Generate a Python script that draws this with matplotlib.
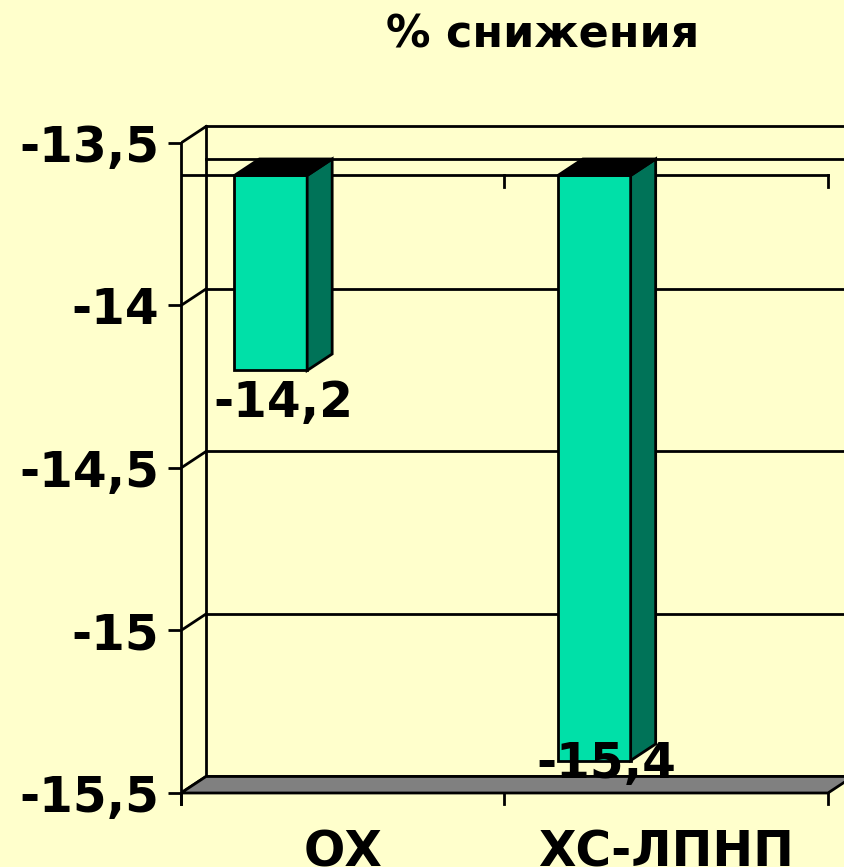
import matplotlib
matplotlib.use("Agg")
import matplotlib.pyplot as plt
from matplotlib.patches import Polygon

plt.rc('font', family='DejaVu Sans', weight='bold')

BG = '#FFFFCC'
COLOR_FRONT = '#00E0A8'
COLOR_SIDE = '#007358'
COLOR_TOP = '#000000'
COLOR_FLOOR = '#808080'

# data
title = '% снижения'
categories = ['ОХ', 'ХС-ЛПНП']
values = [-14.2, -15.4]
value_labels = ['-14,2', '-15,4']
y_ticks = [-13.5, -14.0, -14.5, -15.0, -15.5]
y_tick_labels = ['-13,5', '-14', '-14,5', '-15', '-15,5']

# 3d look (depth offsets in data units)
BASE = -13.6
DX = 0.0773
DY = 0.0508
BAR_OFFSET = 0.165
BAR_W = 0.225
XMAX = 2.0495

fig = plt.figure(figsize=(8.44, 8.67), dpi=100)
fig.set_facecolor(BG)
ax = fig.add_axes([181 / 844, 57 / 867, 663 / 844, 700 / 867])
ax.set_facecolor(BG)
ax.set_xlim(0, XMAX)
ax.set_ylim(-15.5523, -13.3985)

lw = 2.0
y_top, y_bot = max(y_ticks), min(y_ticks)

# back wall gridlines + side wall diagonals
for t in y_ticks:
    ax.plot([DX, XMAX], [t + DY, t + DY], color='black', lw=lw, zorder=1)
    ax.plot([0, DX], [t, t + DY], color='black', lw=lw, zorder=1)
ax.plot([DX, DX], [y_bot + DY, y_top + DY], color='black', lw=lw, zorder=1)

# floor
ncat = len(categories)
floor = Polygon([(0, y_bot), (ncat, y_bot), (ncat + DX, y_bot + DY), (DX, y_bot + DY)],
                closed=True, facecolor=COLOR_FLOOR, edgecolor='black', lw=lw, zorder=2)
ax.add_patch(floor)
for i in range(ncat + 1):
    ax.plot([i, i], [y_bot, y_bot - 0.034], color='black', lw=lw, zorder=2, clip_on=False)

# category axis plane at the base
ax.plot([DX, XMAX], [BASE + DY, BASE + DY], color='black', lw=lw, zorder=1)
ax.plot([0, ncat], [BASE, BASE], color='black', lw=lw, zorder=2)
for i in range(1, ncat + 1):
    ax.plot([i, i], [BASE, BASE - 0.034], color='black', lw=lw, zorder=2)

# bars
for i, v in enumerate(values):
    x = i + BAR_OFFSET
    ax.bar(x, v - BASE, bottom=BASE, width=BAR_W, align='edge',
           color=COLOR_FRONT, edgecolor='black', lw=lw, zorder=3)
    side = Polygon([(x + BAR_W, BASE), (x + BAR_W + DX, BASE + DY),
                    (x + BAR_W + DX, v + DY), (x + BAR_W, v)],
                   closed=True, facecolor=COLOR_SIDE, edgecolor='black', lw=lw, zorder=3)
    top = Polygon([(x, BASE), (x + BAR_W, BASE), (x + BAR_W + DX, BASE + DY), (x + DX, BASE + DY)],
                  closed=True, facecolor=COLOR_TOP, edgecolor='black', lw=lw, zorder=3)
    ax.add_patch(side)
    ax.add_patch(top)
    ly = max(v - 0.1, -15.41)
    ax.text(x + BAR_W / 2 + DX / 2, ly, value_labels[i], ha='center', va='center',
            fontsize=35, fontweight='bold', zorder=5)

# axes
for s in ['top', 'right', 'bottom']:
    ax.spines[s].set_visible(False)
ax.spines['left'].set_linewidth(lw)
ax.spines['left'].set_bounds(y_bot - 0.034, y_top)
ax.set_yticks(y_ticks)
ax.set_yticklabels(y_tick_labels, fontsize=35, fontweight='bold')
ax.tick_params(axis='y', length=9.5, width=lw, pad=6)
ax.set_xticks([i + 0.5 for i in range(ncat)])
ax.set_xticklabels(categories, fontsize=35, fontweight='bold')
ax.tick_params(axis='x', length=0, pad=13)

fig.text(543 / 844, 1 - 35 / 867, title, ha='center', va='center', fontsize=32, fontweight='bold')

fig.savefig('out.png', dpi=100, facecolor=BG)
